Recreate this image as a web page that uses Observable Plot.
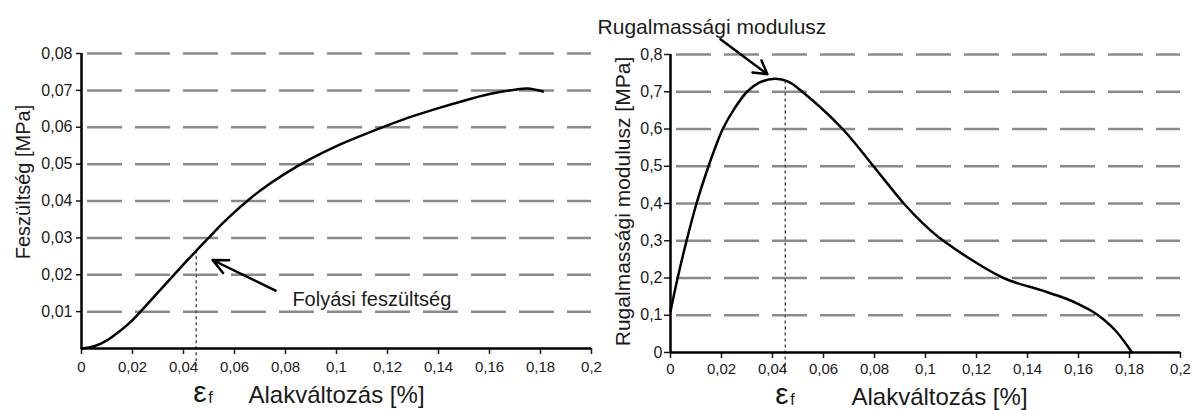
<!DOCTYPE html>
<html><head><meta charset="utf-8">
<script src="https://cdn.jsdelivr.net/npm/d3@7"></script>
<script src="https://cdn.jsdelivr.net/npm/@observablehq/plot@0.6"></script>
<style>
body{margin:0;background:#fff;}
#wrap{position:relative;width:1194px;height:410px;overflow:hidden;background:#fff;}
#wrap svg{position:absolute;top:0;background:transparent;overflow:visible;}
</style></head><body><div id="wrap"></div>
<script>
// ---- data ----
const strainL = [0, 0.005, 0.01, 0.015, 0.02, 0.025, 0.03, 0.035, 0.04, 0.045, 0.05, 0.055, 0.06, 0.065, 0.07, 0.08, 0.09, 0.1, 0.11, 0.12, 0.13, 0.14, 0.15, 0.16, 0.17, 0.175, 0.181];
const stressL = [0, 0.0006, 0.0022, 0.0047, 0.0077, 0.0114, 0.0152, 0.019, 0.0228, 0.0265, 0.0301, 0.0337, 0.037, 0.04, 0.0428, 0.0475, 0.0515, 0.0549, 0.0578, 0.0605, 0.063, 0.0652, 0.0672, 0.069, 0.0702, 0.0705, 0.0697];
const strainR = [0, 0.0028, 0.0063, 0.0102, 0.0149, 0.0177, 0.0205, 0.025, 0.03, 0.035, 0.041, 0.046, 0.0517, 0.0675, 0.0796, 0.0915, 0.0985, 0.107, 0.1306, 0.145, 0.155, 0.16, 0.165, 0.17, 0.175, 0.181];
const modulusR = [0.11, 0.2, 0.3, 0.4, 0.5, 0.553, 0.6, 0.654, 0.7, 0.725, 0.735, 0.728, 0.7, 0.6, 0.5, 0.4, 0.35, 0.3, 0.2, 0.168, 0.145, 0.13, 0.112, 0.088, 0.055, 0];
const xTicks = [0, 0.02, 0.04, 0.06, 0.08, 0.1, 0.12, 0.14, 0.16, 0.18, 0.2];
const yTicksL = [0.01, 0.02, 0.03, 0.04, 0.05, 0.06, 0.07, 0.08];
const yTicksR = [0, 0.1, 0.2, 0.3, 0.4, 0.5, 0.6, 0.7, 0.8];
const gridR = [0.1, 0.2, 0.3, 0.4, 0.5, 0.6, 0.7, 0.8];
const yieldStrain = [0.045];
const yieldStress = [0.0265];
const yieldModulus = [0.729];

const FONT = "'Liberation Sans', Arial, sans-serif";
const fmt = d => String(d).replace(".", ",");
const INK = "#1a1a1a";
const left = strainL.map((x, i) => ({x, y: stressL[i]}));
const right = strainR.map((x, i) => ({x, y: modulusR[i]}));

const plotL = Plot.plot({
  width: 600, height: 410,
  marginLeft: 81, marginRight: 9, marginTop: 53, marginBottom: 62,
  style: {fontFamily: FONT, background: "transparent", overflow: "visible"},
  x: {domain: [0, 0.2]},
  y: {domain: [0, 0.08]},
  marks: [
    Plot.ruleY(yTicksL, {stroke: "#8a8a8a", strokeWidth: 2.5, strokeDasharray: "35,13", strokeDashoffset: -6}),
    Plot.ruleX([{x: yieldStrain[0], top: yieldStress[0], bot: -0.0048}], {x: "x", y1: "top", y2: "bot", stroke: "#555", strokeWidth: 1.5, strokeDasharray: "3,3"}),
    Plot.axisX(xTicks, {tickSize: 6, tickPadding: 7, tickFormat: fmt, fontSize: 15, fill: INK, stroke: INK, strokeWidth: 1.5, label: null}),
    Plot.axisY(yTicksL, {tickSize: 5, tickPadding: 4, tickFormat: fmt, fontSize: 16, fill: INK, stroke: INK, strokeWidth: 1.5, label: null}),
    Plot.ruleY([0], {stroke: "#000", strokeWidth: 2.5}),
    Plot.ruleX([0], {stroke: "#000", strokeWidth: 2.5, y1: 0, y2: 0.08}),
    Plot.line(left, {x: "x", y: "y", curve: "catmull-rom", stroke: "#000", strokeWidth: 2.5}),
    Plot.arrow([{x1: 0.0761, y1: 0.0157, x2: 0.0514, y2: 0.024}], {x1: "x1", y1: "y1", x2: "x2", y2: "y2", stroke: "#000", strokeWidth: 2.5, headLength: 10, headAngle: 50}),
    Plot.text(["Folyási feszültség"], {x: 0.0827, y: 0.0133, textAnchor: "start", lineAnchor: "middle", fontSize: 20, fill: INK}),
    Plot.text(["Alakváltozás [%]"], {frameAnchor: "bottom", dy: 47, textAnchor: "middle", lineAnchor: "middle", fontSize: 24, fill: INK}),
    Plot.text(["Feszültség [MPa]"], {frameAnchor: "left", dx: -58, dy: -19, rotate: -90, textAnchor: "middle", lineAnchor: "middle", fontSize: 20, fill: INK}),
    Plot.text(yieldStrain, {x: d => d, frameAnchor: "bottom", dy: 44, dx: -3, text: () => "ε", textAnchor: "start", lineAnchor: "middle", fontSize: 30, fill: INK}),
    Plot.text(yieldStrain, {x: d => d, frameAnchor: "bottom", dy: 49, dx: 12, text: () => "f", textAnchor: "start", lineAnchor: "middle", fontSize: 16, fill: INK})
  ]
});

const plotR = Plot.plot({
  width: 614, height: 410,
  marginLeft: 90, marginRight: 14, marginTop: 54, marginBottom: 58,
  style: {fontFamily: FONT, background: "transparent", overflow: "visible"},
  x: {domain: [0, 0.2]},
  y: {domain: [0, 0.8]},
  marks: [
    Plot.ruleY(gridR, {stroke: "#8a8a8a", strokeWidth: 2.5, strokeDasharray: "35,13", strokeDashoffset: -6}),
    Plot.ruleX([{x: yieldStrain[0], top: yieldModulus[0], bot: -0.05}], {x: "x", y1: "top", y2: "bot", stroke: "#555", strokeWidth: 1.5, strokeDasharray: "3,3"}),
    Plot.axisX(xTicks, {tickSize: 6, tickPadding: 5, tickFormat: fmt, fontSize: 15, fill: INK, stroke: INK, strokeWidth: 1.5, label: null}),
    Plot.axisY(yTicksR, {tickSize: 6, tickPadding: 2, tickFormat: fmt, fontSize: 16, fill: INK, stroke: INK, strokeWidth: 1.5, label: null}),
    Plot.ruleY([0], {stroke: "#000", strokeWidth: 2.5}),
    Plot.ruleX([0], {stroke: "#000", strokeWidth: 2.5, y1: 0, y2: 0.8}),
    Plot.line(right, {x: "x", y: "y", curve: "catmull-rom", stroke: "#000", strokeWidth: 2.5}),
    Plot.arrow([{x1: 0.0196, y1: 0.841, x2: 0.038, y2: 0.747}], {x1: "x1", y1: "y1", x2: "x2", y2: "y2", stroke: "#000", strokeWidth: 2.5, headLength: 9, headAngle: 60}),
    Plot.text(["Rugalmassági modulusz"], {x: -0.0286, y: 0.874, textAnchor: "start", lineAnchor: "middle", fontSize: 21, fill: INK}),
    Plot.text(["Alakváltozás [%]"], {frameAnchor: "bottom", dy: 45, dx: 14, textAnchor: "middle", lineAnchor: "middle", fontSize: 24, fill: INK}),
    Plot.text(["Rugalmassági modulusz [MPa]"], {frameAnchor: "left", dx: -47, dy: -2, rotate: -90, textAnchor: "middle", lineAnchor: "middle", fontSize: 21, fill: INK}),
    Plot.text(yieldStrain, {x: d => d, frameAnchor: "bottom", dy: 42, dx: -10, text: () => "ε", textAnchor: "start", lineAnchor: "middle", fontSize: 30, fill: INK}),
    Plot.text(yieldStrain, {x: d => d, frameAnchor: "bottom", dy: 47, dx: 5, text: () => "f", textAnchor: "start", lineAnchor: "middle", fontSize: 16, fill: INK})
  ]
});

plotL.style.left = "0px";
plotR.style.left = "580px";
const wrap = document.getElementById("wrap");
wrap.appendChild(plotL);
wrap.appendChild(plotR);
</script></body></html>
